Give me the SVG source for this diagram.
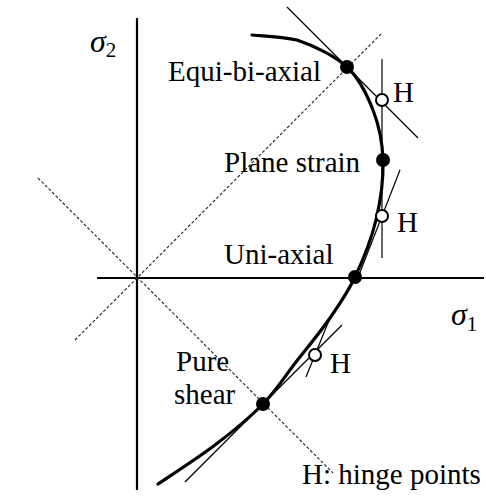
<svg xmlns="http://www.w3.org/2000/svg" width="486" height="497" viewBox="0 0 486 497">
<style>
text{font-family:"Liberation Serif","Times New Roman",serif;font-size:29px;fill:#000}
.sig{font-style:italic;font-size:32px}
.sub{font-style:normal;font-size:21px}
.axis{stroke:#000;stroke-width:2.2;fill:none}
.dash{stroke:#222;stroke-width:1.1;stroke-dasharray:3 2;fill:none}
.thin{stroke:#000;stroke-width:1.2;fill:none}
.curve{stroke:#000;stroke-width:3.2;fill:none;stroke-linecap:round}
.pt{fill:#000}
.hp{fill:#fff;stroke:#000;stroke-width:2}
</style>
<rect width="486" height="497" fill="#fff"/>
<g id="axes">
<line class="axis" x1="137" y1="18" x2="137" y2="490"/>
<line class="axis" x1="97" y1="278" x2="484" y2="278"/>
<text x="90" y="52" class="sig">σ<tspan class="sub" dy="5">2</tspan></text>
<text x="451" y="325" class="sig">σ<tspan class="sub" dy="6">1</tspan></text>
</g>
<g id="connectors">
<line class="dash" x1="38" y1="178" x2="333" y2="473"/>
<line class="dash" x1="75" y1="340" x2="382" y2="33"/>
<line class="thin" x1="287" y1="7" x2="418" y2="138"/>
<line class="thin" x1="382" y1="59" x2="382" y2="258"/>
<line class="thin" x1="400" y1="170" x2="357" y2="280"/>
<line class="thin" x1="306" y1="377" x2="332" y2="313"/>
<line class="thin" x1="185" y1="482" x2="342" y2="325"/>
<path class="curve" d="M252,35 C259.5,35.8 282,37 297,40 C312.8,45.3 334.3,55.3 347,67 C359.7,78.7 367,94.5 373,110 C379,125.5 382.5,141.7 383,160 C383.5,178.3 380.7,200.5 376,220 C371.3,239.5 362.7,260.7 355,277 C347.3,293.3 339.8,303.8 330,318 C320.2,332.2 307.2,347.7 296,362 C284.8,376.3 276.5,390.2 263,404 C249.5,417.8 232.5,431.7 215,445 C197.5,458.3 167.5,477.5 158,484"/>
</g>
<g id="equi-bi-axial">
<circle class="pt" cx="347" cy="67" r="7"/>
<text x="168" y="81">Equi-bi-axial</text>
</g>
<g id="plane-strain">
<circle class="pt" cx="383" cy="160" r="7"/>
<text x="224" y="172">Plane strain</text>
</g>
<g id="uni-axial">
<circle class="pt" cx="355" cy="277" r="7"/>
<text x="224" y="264">Uni-axial</text>
</g>
<g id="pure-shear">
<circle class="pt" cx="263" cy="404" r="7"/>
<text x="176" y="371">Pure</text>
<text x="174" y="404">shear</text>
</g>
<g id="hinge-1">
<circle class="hp" cx="382" cy="100" r="6"/>
<text x="393" y="102">H</text>
</g>
<g id="hinge-2">
<circle class="hp" cx="382" cy="216" r="6"/>
<text x="397" y="232">H</text>
</g>
<g id="hinge-3">
<circle class="hp" cx="315" cy="355" r="6"/>
<text x="330" y="373">H</text>
</g>
<g id="legend">
<text x="302" y="484">H: hinge points</text>
</g>
</svg>
